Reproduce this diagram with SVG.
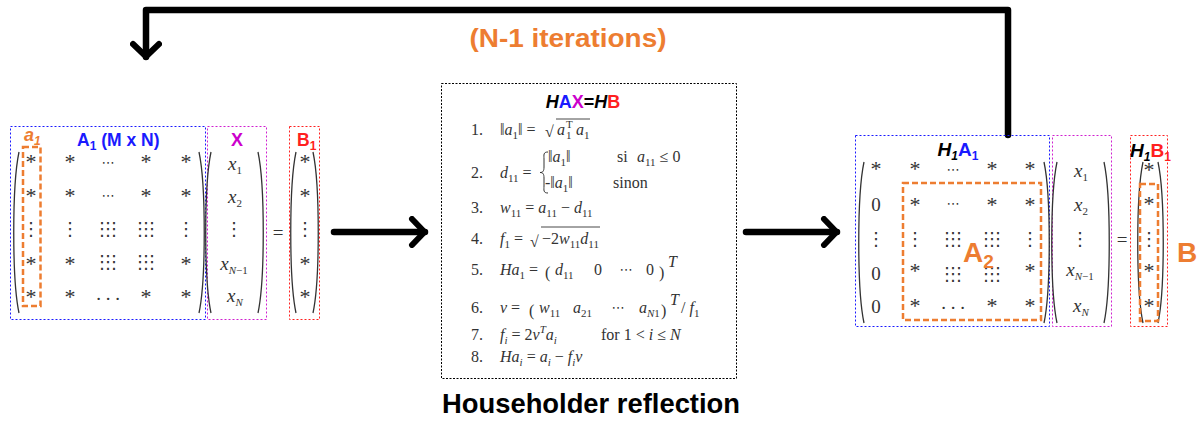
<svg xmlns="http://www.w3.org/2000/svg" width="1198" height="421" viewBox="0 0 1198 421">
<style>
.m{font-family:"Liberation Serif","DejaVu Serif",serif;font-size:19px;fill:#333;text-anchor:middle}
.a{font-family:"Liberation Serif","DejaVu Serif",serif;font-size:22px;fill:#333;text-anchor:middle}
.eq{font-family:"Liberation Serif","DejaVu Serif",serif;font-size:16px;fill:#333}
.i{font-style:italic}
.sb{font-size:11px;baseline-shift:-4px}
.sp{font-size:11px;baseline-shift:7px}
.sym{font-family:"DejaVu Sans",sans-serif;font-size:13px;fill:#333;text-anchor:middle}
.vd{font-family:"DejaVu Sans",sans-serif;font-size:18px;fill:#333;text-anchor:middle}
.gd{font-family:"DejaVu Sans",sans-serif;font-size:18px;fill:#333;text-anchor:middle}
.lbl{font-family:"Liberation Sans",Arial,sans-serif;font-weight:bold}
.lsb{font-size:12px;baseline-shift:-4px}
.par{fill:none;stroke:#333;stroke-width:1.3}
.blue{fill:none;stroke:#1a1aff;stroke-width:1;stroke-dasharray:2 2}
.mag{fill:none;stroke:#d020d0;stroke-width:1;stroke-dasharray:2 2}
.red{fill:none;stroke:#ff2020;stroke-width:1;stroke-dasharray:2 2}
.org{fill:none;stroke:#ED7D31;stroke-width:2.5;stroke-dasharray:6 3}
.conn{fill:none;stroke:#000;stroke-width:6.5;stroke-linecap:round;stroke-linejoin:round}
</style>
<defs>
<marker id="chev" viewBox="0 0 20 32" refX="17" refY="16" markerWidth="20" markerHeight="32" orient="auto" markerUnits="userSpaceOnUse">
<path d="M4,3 L16.5,16 L4,29" fill="none" stroke="#000" stroke-width="6" stroke-linecap="round" stroke-linejoin="round"/>
</marker>
</defs>

<g id="connectors">
<path class="conn" d="M1008,135 L1008,10 L146,10 L146,57" marker-end="url(#chev)"/>
<path class="conn" d="M334,232 L425,232" marker-end="url(#chev)"/>
<path class="conn" d="M746,232 L837,232" marker-end="url(#chev)"/>
</g>

<g id="iterations-label">
<text class="lbl" x="568" y="47" font-size="26" fill="#ED7D31" text-anchor="middle" textLength="197" lengthAdjust="spacingAndGlyphs">(N-1 iterations)</text>
</g>

<g id="matrix-A1">
<rect class="blue" x="10.5" y="126.5" width="195" height="193"/>
<rect class="org" x="23" y="147" width="17.5" height="159"/>
<text class="lbl" x="24" y="141" font-size="18" fill="#ED7D31" font-style="italic">a<tspan class="lsb">1</tspan></text>
<text class="lbl" x="77" y="146" font-size="17.5" fill="#1a1aff">A<tspan class="lsb">1</tspan> (M x N)</text>
<path class="par" d="M19,152 C12,185 12,280 19,313"/>
<path class="par" d="M199,152 C206,185 206,280 199,313"/>
<text class="a" x="31" y="169">*</text><text class="a" x="70" y="169">*</text><text class="sym" x="108" y="167">⋯</text><text class="a" x="146" y="169">*</text><text class="a" x="186" y="169">*</text>
<text class="a" x="31" y="203">*</text><text class="a" x="70" y="203">*</text><text class="sym" x="108" y="200">⋯</text><text class="a" x="146" y="203">*</text><text class="a" x="186" y="203">*</text>
<text class="vd" x="31" y="235">⋮</text><text class="vd" x="70" y="235">⋮</text><text class="gd" x="102 108 114" y="235">⋮⋮⋮</text><text class="gd" x="140 146 152" y="235">⋮⋮⋮</text><text class="vd" x="186" y="235">⋮</text>
<text class="a" x="31" y="271">*</text><text class="a" x="70" y="271">*</text><text class="gd" x="102 108 114" y="268">⋮⋮⋮</text><text class="gd" x="140 146 152" y="268">⋮⋮⋮</text><text class="a" x="186" y="271">*</text>
<text class="a" x="31" y="304">*</text><text class="a" x="70" y="304">*</text><text class="m" x="108" y="300">. . .</text><text class="a" x="146" y="304">*</text><text class="a" x="186" y="304">*</text>
</g>

<g id="vector-X">
<rect class="mag" x="207.5" y="126.5" width="59" height="193"/>
<text class="lbl" x="237" y="146" font-size="18" fill="#cc00cc" text-anchor="middle">X</text>
<path class="par" d="M211,152 C204,185 204,280 211,313"/>
<path class="par" d="M258,152 C265,185 265,280 258,313"/>
<text class="m" x="235" y="170"><tspan class="i">x</tspan><tspan class="sb">1</tspan></text>
<text class="m" x="235" y="203"><tspan class="i">x</tspan><tspan class="sb">2</tspan></text>
<text class="vd" x="234" y="235">⋮</text>
<text class="m" x="234" y="270"><tspan class="i">x</tspan><tspan class="sb"><tspan class="i">N</tspan>−1</tspan></text>
<text class="m" x="235" y="302"><tspan class="i">x</tspan><tspan class="sb i">N</tspan></text>
</g>

<text class="m" x="278" y="239" font-size="21">=</text>

<g id="vector-B1">
<rect class="red" x="289.5" y="126.5" width="30" height="193"/>
<text class="lbl" x="297" y="146" font-size="17.5" fill="#ff2020">B<tspan class="lsb">1</tspan></text>
<path class="par" d="M296,152 C289,185 289,280 296,313"/>
<path class="par" d="M313,152 C320,185 320,280 313,313"/>
<text class="a" x="305" y="169">*</text>
<text class="a" x="305" y="203">*</text>
<text class="vd" x="305" y="235">⋮</text>
<text class="a" x="305" y="271">*</text>
<text class="a" x="305" y="304">*</text>
</g>

<g id="householder-box">
<rect x="441.5" y="83.5" width="295" height="295" fill="none" stroke="#000" stroke-width="1" stroke-dasharray="2 1.5"/>
<text class="lbl" x="583" y="108" font-size="18" text-anchor="middle"><tspan font-style="italic">H</tspan><tspan fill="#1a1aff">A</tspan><tspan fill="#cc00cc">X</tspan>=<tspan font-style="italic">H</tspan><tspan fill="#ff2020">B</tspan></text>

<text class="eq" x="471" y="135">1.</text>
<text class="eq" x="500" y="135">‖<tspan class="i">a</tspan><tspan class="sb">1</tspan>‖ =</text>
<text class="eq" x="545" y="137" font-size="20">√</text>
<line x1="556" y1="119" x2="590" y2="119" stroke="#333" stroke-width="0.9"/>
<text class="eq" x="557" y="135"><tspan class="i">a</tspan><tspan class="sp" x="566">T</tspan><tspan class="sb" x="566">1</tspan><tspan class="i" x="576">a</tspan><tspan class="sb">1</tspan></text>

<text class="eq" x="471" y="178">2.</text>
<text class="eq" x="500" y="178"><tspan class="i">d</tspan><tspan class="sb">11</tspan> =</text>
<path d="M548,152 C543,152 544,155 544,159 L544,167 C544,171 543,172.5 540,172.5 C543,172.5 544,174 544,178 L544,186 C544,190 543,193 548,193" fill="none" stroke="#333" stroke-width="1"/>
<text class="eq" x="548" y="162">‖<tspan class="i">a</tspan><tspan class="sb">1</tspan>‖</text>
<text class="eq" x="617" y="162">si</text>
<text class="eq" x="637" y="162"><tspan class="i">a</tspan><tspan class="sb">11</tspan> ≤ 0</text>
<text class="eq" x="545" y="188">-‖<tspan class="i">a</tspan><tspan class="sb">1</tspan>‖</text>
<text class="eq" x="613" y="188">sinon</text>

<text class="eq" x="471" y="213">3.</text>
<text class="eq" x="500" y="213"><tspan class="i">w</tspan><tspan class="sb">11</tspan> = <tspan class="i">a</tspan><tspan class="sb">11</tspan> − <tspan class="i">d</tspan><tspan class="sb">11</tspan></text>

<text class="eq" x="471" y="244">4.</text>
<text class="eq" x="500" y="244"><tspan class="i">f</tspan><tspan class="sb">1</tspan> =</text>
<text class="eq" x="530" y="247" font-size="21">√</text>
<line x1="541" y1="227" x2="600" y2="227" stroke="#333" stroke-width="0.9"/>
<text class="eq" x="542" y="244">−2<tspan class="i">w</tspan><tspan class="sb">11</tspan><tspan class="i">d</tspan><tspan class="sb">11</tspan></text>

<text class="eq" x="471" y="275">5.</text>
<text class="eq" x="500" y="275"><tspan class="i">Ha</tspan><tspan class="sb">1</tspan> =</text>
<text class="eq" x="545" y="278" font-size="26">(</text>
<text class="eq" x="555" y="275"><tspan class="i">d</tspan><tspan class="sb">11</tspan></text>
<text class="eq" x="594" y="275">0</text>
<text class="sym" x="626" y="274">⋯</text>
<text class="eq" x="646" y="275">0</text>
<text class="eq" x="659" y="278" font-size="26">)</text>
<text class="eq" x="668" y="267" font-size="11"><tspan class="i">T</tspan></text>

<text class="eq" x="471" y="313">6.</text>
<text class="eq" x="500" y="313"><tspan class="i">v</tspan> =</text>
<text class="eq" x="529" y="316" font-size="26">(</text>
<text class="eq" x="539" y="313"><tspan class="i">w</tspan><tspan class="sb">11</tspan></text>
<text class="eq" x="573" y="313"><tspan class="i">a</tspan><tspan class="sb">21</tspan></text>
<text class="sym" x="618" y="312">⋯</text>
<text class="eq" x="639" y="313"><tspan class="i">a</tspan><tspan class="sb"><tspan class="i">N</tspan>1</tspan></text>
<text class="eq" x="661" y="316" font-size="26">)</text>
<text class="eq" x="670" y="305" font-size="11"><tspan class="i">T</tspan></text>
<text class="eq" x="681" y="313">/ <tspan class="i">f</tspan><tspan class="sb">1</tspan></text>

<text class="eq" x="471" y="340">7.</text>
<text class="eq" x="500" y="340"><tspan class="i">f</tspan><tspan class="sb i">i</tspan> = 2<tspan class="i">v</tspan><tspan class="sp i">T</tspan><tspan class="i">a</tspan><tspan class="sb i">i</tspan></text>
<text class="eq" x="601" y="340">for 1 &lt; <tspan class="i">i</tspan> ≤ <tspan class="i">N</tspan></text>

<text class="eq" x="471" y="362">8.</text>
<text class="eq" x="500" y="362"><tspan class="i">Ha</tspan><tspan class="sb i">i</tspan> = <tspan class="i">a</tspan><tspan class="sb i">i</tspan> − <tspan class="i">f</tspan><tspan class="sb i">i</tspan><tspan class="i">v</tspan></text>
</g>

<g id="householder-label">
<text class="lbl" x="591" y="413" font-size="27" text-anchor="middle" textLength="298" lengthAdjust="spacingAndGlyphs">Householder reflection</text>
</g>

<g id="matrix-H1A1">
<rect class="blue" x="855.5" y="135.5" width="194" height="191"/>
<text class="lbl" x="958" y="156" font-size="19" text-anchor="middle"><tspan font-style="italic">H</tspan><tspan class="lsb" font-style="italic">1</tspan><tspan fill="#1a1aff">A</tspan><tspan class="lsb" fill="#1a1aff">1</tspan></text>
<rect class="org" x="903" y="183" width="138" height="137"/>
<path class="par" d="M864,162 C857,195 857,290 864,323"/>
<path class="par" d="M1044,162 C1051,195 1051,290 1044,323"/>
<text class="a" x="876" y="176">*</text><text class="a" x="915" y="176">*</text><text class="sym" x="953" y="174">⋯</text><text class="a" x="992" y="176">*</text><text class="a" x="1030" y="176">*</text>
<text class="m" x="876" y="211" font-size="20">0</text><text class="a" x="915" y="212">*</text><text class="sym" x="953" y="208">⋯</text><text class="a" x="992" y="212">*</text><text class="a" x="1030" y="212">*</text>
<text class="vd" x="876" y="245">⋮</text><text class="vd" x="915" y="245">⋮</text><text class="gd" x="947 953 959" y="245">⋮⋮⋮</text><text class="gd" x="986 992 998" y="245">⋮⋮⋮</text><text class="vd" x="1030" y="245">⋮</text>
<text class="m" x="876" y="280" font-size="20">0</text><text class="a" x="915" y="278">*</text><text class="gd" x="947 953 959" y="280">⋮⋮⋮</text><text class="gd" x="986 992 998" y="280">⋮⋮⋮</text><text class="a" x="1030" y="278">*</text>
<text class="m" x="876" y="313" font-size="20">0</text><text class="a" x="915" y="313">*</text><text class="m" x="953" y="309">. . .</text><text class="a" x="992" y="313">*</text><text class="a" x="1030" y="313">*</text>
<text class="lbl" x="963" y="262" font-size="28" fill="#ED7D31">A<tspan font-size="19" baseline-shift="-6">2</tspan></text>
</g>

<g id="vector-X-right">
<rect class="mag" x="1052.5" y="135.5" width="59" height="191"/>
<path class="par" d="M1057,162 C1050,195 1050,290 1057,323"/>
<path class="par" d="M1104,162 C1111,195 1111,290 1104,323"/>
<text class="m" x="1081" y="177"><tspan class="i">x</tspan><tspan class="sb">1</tspan></text>
<text class="m" x="1081" y="211"><tspan class="i">x</tspan><tspan class="sb">2</tspan></text>
<text class="vd" x="1080" y="245">⋮</text>
<text class="m" x="1080" y="276"><tspan class="i">x</tspan><tspan class="sb"><tspan class="i">N</tspan>−1</tspan></text>
<text class="m" x="1081" y="312"><tspan class="i">x</tspan><tspan class="sb i">N</tspan></text>
</g>

<text class="m" x="1122" y="246" font-size="21">=</text>

<g id="vector-H1B1">
<rect class="red" x="1130.5" y="135.5" width="37" height="191"/>
<text class="lbl" x="1130" y="157" font-size="19"><tspan font-style="italic">H</tspan><tspan class="lsb" font-style="italic">1</tspan><tspan fill="#ff2020">B</tspan><tspan class="lsb" fill="#ff2020">1</tspan></text>
<path class="par" d="M1143,162 C1136,195 1136,290 1143,323"/>
<path class="par" d="M1158,162 C1165,195 1165,290 1158,323"/>
<rect class="org" x="1140" y="184" width="18" height="137"/>
<text class="a" x="1149" y="177">*</text>
<text class="a" x="1149" y="211">*</text>
<text class="vd" x="1149" y="245">⋮</text>
<text class="a" x="1149" y="278">*</text>
<text class="a" x="1149" y="313">*</text>
<text class="lbl" x="1177" y="262" font-size="28" fill="#ED7D31">B</text>
</g>
</svg>
